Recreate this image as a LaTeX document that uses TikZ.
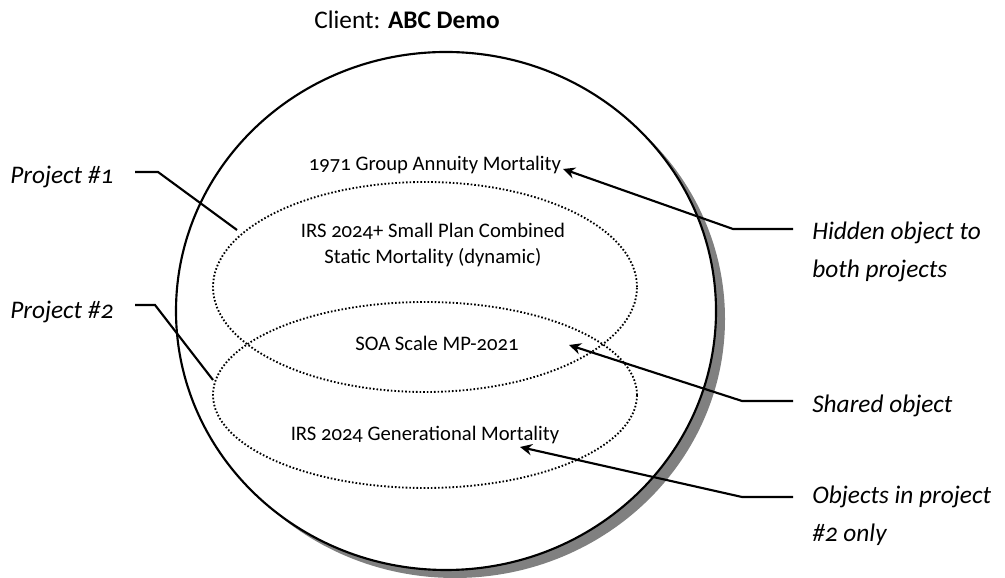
\documentclass[tikz,border=0pt]{standalone}
\usepackage{fontspec}
\setmainfont{Carlito}[Numbers=OldStyle]
\usetikzlibrary{arrows.meta, positioning, calc}

\begin{document}
\begin{tikzpicture}[
    x=2.6367cm, y=2.6367cm,
    every node/.style={font=\fontsize{15.5}{19.5}\selectfont},
]

% ---------------------------------------------------------------- colours
\definecolor{ink}{HTML}{000000}     % outlines, leaders, words
\definecolor{shade}{HTML}{808080}   % the drop shadow of the client circle

% ================================================================
% Geometry (1 unit = 100 px of the 1005 x 578 frame, y up)
%
%   client ellipse   centre (4.46, 2.67), radii 2.70 x 2.59
%   its shadow       same, pushed (+0.09, -0.08)
%   project #1       centre (4.25, 2.91), radii 2.12 x 1.05   (dotted)
%   project #2       centre (4.25, 1.83), radii 2.12 x 0.93   (dotted)
%
%   labels left at x = 0.10, labels right at x = 8.12
%   every leader has a short flat run next to its label, then a slant
% ================================================================

\def\cx{4.46}
\def\cy{2.67}
\def\px{4.25}

\tikzset{
    client/.style={draw=ink, line width=1.6pt, fill=white},
    clientshadow/.style={fill=shade, draw=none},
    project/.style={draw=ink, line width=1.4pt,
        dash pattern=on 1.2pt off 1.5pt},
    item/.style={font=\fontsize{15.5}{19.5}\selectfont, text=ink,
        align=center, inner sep=0pt},
    sidelab/.style={font=\itshape\fontsize{19}{28.5}\selectfont, text=ink,
        align=left, anchor=west, inner sep=0pt},
    lead/.style={draw=ink, line width=1.6pt},
    pointer/.style={lead, -{Stealth[length=9pt, width=8.5pt, inset=3pt]}},
}

\useasboundingbox (0,0) rectangle (10.05,5.78);

% ================================================================ the client
\fill[clientshadow] (\cx+0.09, \cy-0.08) ellipse [x radius=2.70, y radius=2.59];
\draw[client] (\cx, \cy) ellipse [x radius=2.70, y radius=2.59];

\node[font=\fontsize{19}{22}\selectfont] (client) at (4.07, 5.58)
    {Client: \textbf{ABC Demo}};

% ================================================================ projects
\draw[project] (\px, 2.91) ellipse [x radius=2.12, y radius=1.05];
\draw[project] (\px, 1.83) ellipse [x radius=2.12, y radius=0.93];

% ================================================================ objects
\node[item] (gam)    at (4.35, 4.13) {1971 Group Annuity Mortality};
\node[item] (static) at (4.33, 3.33) {IRS 2024+ Small Plan Combined\\Static Mortality (dynamic)};
\node[item] (mp)     at (4.37, 2.35) {SOA Scale MP-2021};
\node[item] (gen)    at (4.25, 1.43) {IRS 2024 Generational Mortality};

% ================================================================ left labels
\node[sidelab] (proja) at (0.10, 4.01) {Project \#1};
\node[sidelab] (projb) at (0.10, 2.66) {Project \#2};

\coordinate (projaEnd)  at (1.35, 4.06);
\coordinate (projaBend) at (1.58, 4.06);
\coordinate (projaHit)  at (2.37, 3.48);
\draw[lead] (projaEnd) -- (projaBend) -- (projaHit);

\coordinate (projbEnd)  at (1.35, 2.73);
\coordinate (projbBend) at (1.55, 2.73);
\coordinate (projbHit)  at (2.13, 1.98);
\draw[lead] (projbEnd) -- (projbBend) -- (projbHit);

% ================================================================ right labels
\node[sidelab] (hidden) at (8.12, 3.26) {Hidden object to\\both projects};
\node[sidelab] (shared) at (8.12, 1.72) {Shared object};
\node[sidelab] (only)   at (8.12, 0.62) {Objects in project\\\#2 only};

\coordinate (hiddenEnd)  at (7.93, 3.49);
\coordinate (hiddenBend) at (7.33, 3.49);
\coordinate (hiddenTip)  at (5.63, 4.09);
\draw[pointer] (hiddenEnd) -- (hiddenBend) -- (hiddenTip);

\coordinate (sharedEnd)  at (7.93, 1.77);
\coordinate (sharedBend) at (7.42, 1.77);
\coordinate (sharedTip)  at (5.69, 2.33);
\draw[pointer] (sharedEnd) -- (sharedBend) -- (sharedTip);

\coordinate (onlyEnd)  at (7.93, 0.81);
\coordinate (onlyBend) at (7.42, 0.81);
\coordinate (onlyTip)  at (5.20, 1.31);
\draw[pointer] (onlyEnd) -- (onlyBend) -- (onlyTip);

\end{tikzpicture}
\end{document}
